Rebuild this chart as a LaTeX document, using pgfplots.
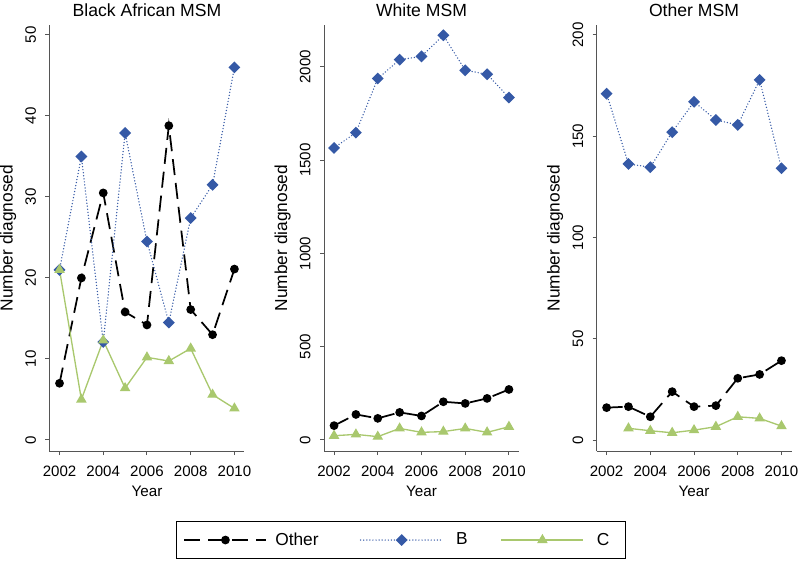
\documentclass[border=0pt]{standalone}
\usepackage{fontspec}
\setmainfont{Liberation Sans}
\usepackage{pgfplots}
\pgfplotsset{compat=1.18}
\definecolor{bblue}{HTML}{3559A6}
\definecolor{cgreen}{HTML}{A9C86E}
\definecolor{axgray}{HTML}{555555}
\pgfplotsset{
  otherstyle/.style={black, line width=1.3pt, dash pattern=on 12pt off 6pt, mark=*, mark size=2.6pt, mark options={solid}},
  bstyle/.style={bblue, line width=1.1pt, line cap=round, dash pattern=on 0pt off 2.3pt, mark=square*, mark size=2.6pt, mark options={solid, rotate=45}},
  cstyle/.style={cgreen, line width=1pt, mark=triangle*, mark size=3.6pt, mark options={solid}},
  panel/.style={
    scale only axis, width=146.25pt, height=319.5pt, anchor=south west,
    axis x line=bottom, axis y line=left,
    axis line style={-, axgray, line width=0.75pt},
    tick style={axgray, line width=0.75pt},
    tick align=outside, major tick length=3pt,
    xmin=2001.54, xmax=2010.46,
    xtick={2002,2004,2006,2008,2010},
    /pgf/number format/1000 sep={},
    /pgf/number format/assume math mode=true,
    ticklabel style={font=\fontsize{11.3}{13}\selectfont},
    yticklabel style={rotate=90, anchor=south},
    xticklabel shift=5pt,
    yticklabel shift=3.5pt,
    label style={font=\fontsize{13}{15}\selectfont},
    xlabel={Year},
    xlabel style={font=\fontsize{11.4}{13}\selectfont},
    ylabel={Number diagnosed},
    title style={font=\fontsize{13.2}{15}\selectfont, at={(0.5,1)}, anchor=south, yshift=-3pt},
    legend image code/.code={\draw[mark repeat=2, mark phase=2, #1] plot coordinates {(0pt,0pt) (30.75pt,0pt) (61.5pt,0pt)};},
  },
}
\begin{document}
\begin{tikzpicture}
\useasboundingbox (0,0) rectangle (600pt,420.75pt);
% Panel 1
\begin{axis}[panel, at={(37.1pt,82.5pt)}, title={Black African MSM},
  ymin=-1.36, ymax=51.23, ytick={0,10,20,30,40,50}]
\addplot[otherstyle] coordinates {(2002,7) (2003,20) (2004,30.5) (2005,15.8) (2006,14.2) (2007,38.8) (2008,16.1) (2009,13) (2010,21.1)};
\addplot[bstyle] coordinates {(2002,21) (2003,35) (2004,12.1) (2005,37.9) (2006,24.5) (2007,14.5) (2008,27.4) (2009,31.5) (2010,46)};
\addplot[cstyle] coordinates {(2002,21) (2003,5) (2004,12.3) (2005,6.4) (2006,10.2) (2007,9.75) (2008,11.3) (2009,5.6) (2010,3.9)};
\end{axis}
% Panel 2
\begin{axis}[panel, at={(243pt,82.5pt)}, title={White MSM},
  ymin=-59, ymax=2225, ytick={0,500,1000,1500,2000},
  legend columns=3,
  legend style={at={(0.394,-0.209)}, anchor=center, draw=black, line width=0.6pt,
    font=\fontsize{13}{15}\selectfont, column sep=0pt, inner xsep=5.5pt, inner ysep=6.5pt},
  legend cell align=left]
\addplot[otherstyle] coordinates {(2002,77) (2003,137) (2004,116) (2005,148) (2006,129) (2007,205) (2008,196) (2009,223) (2010,271)};
\addlegendentry{\hspace{4pt}\makebox[61.5pt][l]{Other}}
\addplot[bstyle] coordinates {(2002,1566) (2003,1648) (2004,1938) (2005,2039) (2006,2057) (2007,2170) (2008,1982) (2009,1961) (2010,1836)};
\addlegendentry{\hspace{7.5pt}\makebox[31.5pt][l]{B}}
\addplot[cstyle] coordinates {(2002,23) (2003,30) (2004,18) (2005,62) (2006,41) (2007,45) (2008,62) (2009,41) (2010,71)};
\addlegendentry{\hspace{7.5pt}\makebox[14pt][l]{C}}
\end{axis}
% Panel 3
\begin{axis}[panel, at={(447.4pt,82.5pt)}, title={Other MSM},
  ymin=-5.4, ymax=204.9, ytick={0,50,100,150,200}]
\addplot[otherstyle] coordinates {(2002,16) (2003,16.5) (2004,11.5) (2005,23.9) (2006,16.5) (2007,17) (2008,30.5) (2009,32.4) (2010,39.2)};
\addplot[bstyle] coordinates {(2002,171) (2003,136.3) (2004,134.7) (2005,152) (2006,167) (2007,158) (2008,155.6) (2009,177.8) (2010,134.2)};
\addplot[cstyle] coordinates {(2003,5.8) (2004,4.6) (2005,3.6) (2006,4.9) (2007,6.6) (2008,11.5) (2009,10.7) (2010,6.9)};
\end{axis}
\end{tikzpicture}
\end{document}
